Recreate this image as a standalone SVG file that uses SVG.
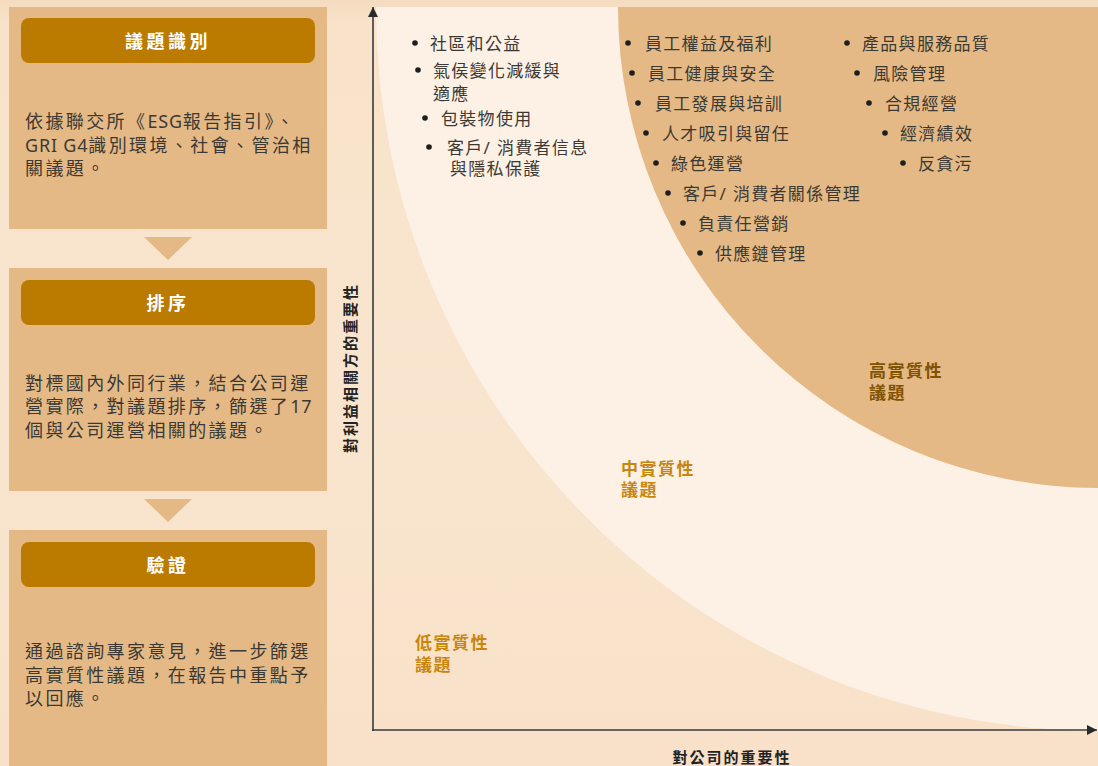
<svg xmlns="http://www.w3.org/2000/svg" width="1098" height="766" viewBox="0 0 1098 766">
  <defs>
    <style>
      text { font-family: "Noto Sans", "Noto Sans CJK TC", sans-serif; }
      .box { fill: #e5b985; }
      .bar { fill: #bb7b00; }
      .title { fill: #ffffff; font-size: 18px; font-weight: bold; letter-spacing: 3.5px; text-anchor: middle; }
      .body { fill: #3c3934; font-size: 18px; letter-spacing: 2.4px; }
      .lat { letter-spacing: 0.8px; }
      .item { fill: #3c3934; font-size: 17px; letter-spacing: 1.3px; }
      .dot { fill: #1e1e1e; }
      .tri { fill: #e5b985; }
      .axis { stroke: #3a3a3a; stroke-width: 1.6; fill: none; }
      .axlabel { fill: #222222; font-size: 15px; font-weight: bold; letter-spacing: 2px; }
      .qmid { fill: #c8870c; font-size: 17px; font-weight: bold; letter-spacing: 1.5px; }
      .qhigh { fill: #7f5300; font-size: 17px; font-weight: bold; letter-spacing: 1.5px; }
    </style>
    <marker id="arrow" viewBox="0 0 10 10" refX="10" refY="5" markerWidth="10" markerHeight="10" markerUnits="userSpaceOnUse" orient="auto">
      <path d="M0,0 L10,5 L0,10 Z" fill="#2a2a2a"/>
    </marker>
    <linearGradient id="bgGrad" x1="0" y1="0" x2="0" y2="1">
      <stop offset="0" stop-color="#f5dbbf"/>
      <stop offset="0.03" stop-color="#f8e2c9"/>
      <stop offset="0.5" stop-color="#f9e5cf"/>
      <stop offset="1" stop-color="#f8e1c8"/>
    </linearGradient>
  </defs>

  <!-- background -->
  <rect x="0" y="0" width="1098" height="766" fill="url(#bgGrad)"/>

  <!-- chart zones -->
  <g id="zone-medium">
    <path d="M376,7 A724,724 0 0 0 1100,731 L1100,7 Z" fill="#fdf1e6"/>
  </g>
  <g id="zone-high">
    <path d="M618,7 A481,481 0 0 0 1099,488 L1099,7 Z" fill="#e5b985"/>
  </g>

  <!-- step 1 -->
  <g id="step1">
    <rect class="box" x="9" y="7" width="318" height="222"/>
    <rect class="bar" x="21" y="18" width="294" height="45" rx="8" ry="8"/>
    <text class="title" x="168" y="48">議題識別</text>
    <text class="body" x="25" y="128">依據聯交所《<tspan class="lat">ESG</tspan>報告指引》、</text>
    <text class="body" x="25" y="152"><tspan class="lat">GRI G4</tspan>識別環境、社會、管治相</text>
    <text class="body" x="25" y="175">關議題。</text>
  </g>

  <!-- step 2 -->
  <g id="step2">
    <rect class="box" x="9" y="268" width="318" height="223"/>
    <rect class="bar" x="21" y="280" width="294" height="45" rx="8" ry="8"/>
    <text class="title" x="168" y="310">排序</text>
    <text class="body" x="25" y="390">對標國內外同行業，結合公司運</text>
    <text class="body" x="25" y="413">營實際，對議題排序，篩選了<tspan class="lat">17</tspan></text>
    <text class="body" x="25" y="437">個與公司運營相關的議題。</text>
  </g>

  <!-- step 3 -->
  <g id="step3">
    <rect class="box" x="9" y="530" width="318" height="236"/>
    <rect class="bar" x="21" y="542" width="294" height="45" rx="8" ry="8"/>
    <text class="title" x="168" y="572">驗證</text>
    <text class="body" x="25" y="658">通過諮詢專家意見，進一步篩選</text>
    <text class="body" x="25" y="682">高實質性議題，在報告中重點予</text>
    <text class="body" x="25" y="705">以回應。</text>
  </g>

  <!-- connectors between steps -->
  <g id="connectors">
    <polygon class="tri" points="144,237 192,237 168,260"/>
    <polygon class="tri" points="144,499 192,499 168,522"/>
  </g>

  <!-- axes -->
  <g id="axes">
    <line class="axis" x1="373" y1="731" x2="373" y2="7" marker-end="url(#arrow)"/>
    <line class="axis" x1="372" y1="730" x2="1097" y2="730" marker-end="url(#arrow)"/>
    <text class="axlabel" x="0" y="0" transform="translate(356,368) rotate(-90)" text-anchor="middle">對利益相關方的重要性</text>
    <text class="axlabel" x="732" y="763" text-anchor="middle">對公司的重要性</text>
  </g>

  <!-- quadrant labels -->
  <g id="label-low">
    <text class="qmid" x="415" y="649">低實質性</text>
    <text class="qmid" x="415" y="671">議題</text>
  </g>
  <g id="label-mid">
    <text class="qmid" x="621" y="475">中實質性</text>
    <text class="qmid" x="621" y="496">議題</text>
  </g>
  <g id="label-high">
    <text class="qhigh" x="869" y="377">高實質性</text>
    <text class="qhigh" x="869" y="399">議題</text>
  </g>

  <!-- low materiality list -->
  <g id="list-low">
    <circle class="dot" cx="415" cy="43" r="2.8"/>
    <text class="item" x="430" y="50">社區和公益</text>
    <circle class="dot" cx="418" cy="70" r="2.8"/>
    <text class="item" x="433" y="77">氣侯變化減緩與</text>
    <text class="item" x="433" y="100">適應</text>
    <circle class="dot" cx="425" cy="118" r="2.8"/>
    <text class="item" x="441" y="125">包裝物使用</text>
    <circle class="dot" cx="429" cy="147" r="2.8"/>
    <text class="item" x="447" y="154">客戶/ 消費者信息</text>
    <text class="item" x="450" y="175">與隱私保護</text>
  </g>

  <!-- high materiality list, column 1 -->
  <g id="list-high-1">
    <circle class="dot" cx="628" cy="43" r="2.8"/>
    <text class="item" x="645" y="50">員工權益及福利</text>
    <circle class="dot" cx="632" cy="73" r="2.8"/>
    <text class="item" x="648" y="80">員工健康與安全</text>
    <circle class="dot" cx="638" cy="103" r="2.8"/>
    <text class="item" x="655" y="110">員工發展與培訓</text>
    <circle class="dot" cx="646" cy="133" r="2.8"/>
    <text class="item" x="662" y="140">人才吸引與留任</text>
    <circle class="dot" cx="656" cy="163" r="2.8"/>
    <text class="item" x="671" y="170">綠色運營</text>
    <circle class="dot" cx="668" cy="193" r="2.8"/>
    <text class="item" x="683" y="200">客戶/ 消費者關係管理</text>
    <circle class="dot" cx="683" cy="223" r="2.8"/>
    <text class="item" x="698" y="230">負責任營銷</text>
    <circle class="dot" cx="700" cy="253" r="2.8"/>
    <text class="item" x="715" y="260">供應鏈管理</text>
  </g>

  <!-- high materiality list, column 2 -->
  <g id="list-high-2">
    <circle class="dot" cx="847" cy="43" r="2.8"/>
    <text class="item" x="862" y="50">產品與服務品質</text>
    <circle class="dot" cx="857" cy="73" r="2.8"/>
    <text class="item" x="873" y="80">風險管理</text>
    <circle class="dot" cx="869" cy="103" r="2.8"/>
    <text class="item" x="885" y="110">合規經營</text>
    <circle class="dot" cx="885" cy="133" r="2.8"/>
    <text class="item" x="900" y="140">經濟績效</text>
    <circle class="dot" cx="903" cy="163" r="2.8"/>
    <text class="item" x="918" y="170">反貪污</text>
  </g>
</svg>
